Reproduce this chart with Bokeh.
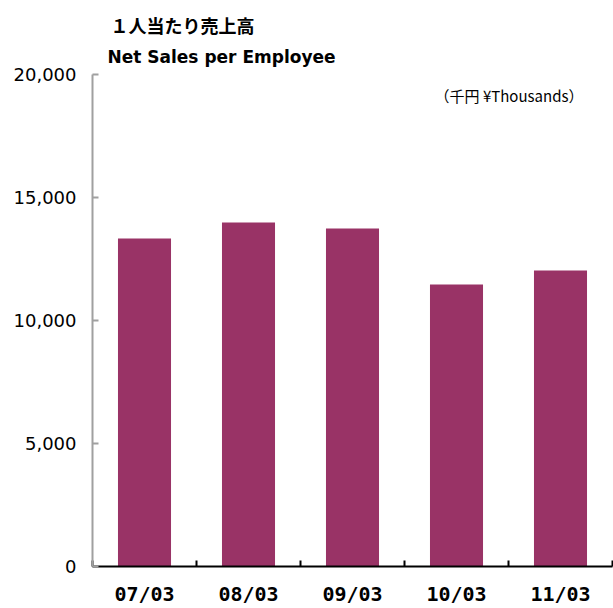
from bokeh.plotting import figure
from bokeh.models import ColumnDataSource, FixedTicker, NumeralTickFormatter, Range1d, Label
from bokeh.embed import file_html
from bokeh.resources import INLINE

categories = ["07/03", "08/03", "09/03", "10/03", "11/03"]
values = [13330, 13980, 13740, 11460, 12030]
y_ticks = [0, 5000, 10000, 15000, 20000]
y_max = 20000

title_ja = "１人当たり売上高"
title_en = "Net Sales per Employee"
unit_label = "（千円 ¥Thousands）"

n = len(categories)
centers = [i + 0.5 for i in range(n)]
bounds = list(range(n + 1))

# geometry (pixels): frame spans whole top; axis top sits 74px below the canvas top
W, H = 613, 608
border_left, border_bottom, axis_top_px = 92, 41, 74
frame_h = H - border_bottom
range_top = y_max * frame_h / (frame_h - axis_top_px)

source = ColumnDataSource(dict(x=centers, top=values))

p = figure(width=W, height=H, output_backend="svg", toolbar_location=None,
           x_range=Range1d(0, n), y_range=Range1d(0, range_top),
           min_border_left=border_left, min_border_right=1, min_border_top=0,
           min_border_bottom=border_bottom)
p.outline_line_color = None
p.xgrid.visible = False
p.ygrid.visible = False
p.background_fill_color = "white"

p.vbar(x="x", top="top", width=0.51, bottom=0, source=source,
       fill_color="#993366", line_color=None)

# y axis
ya = p.yaxis[0]
ya.bounds = (0, y_max)
ya.ticker = FixedTicker(ticks=y_ticks)
ya.formatter = NumeralTickFormatter(format="0,0")
ya.axis_line_color = "#a0a0a0"
ya.axis_line_width = 2
ya.major_tick_line_color = "#a0a0a0"
ya.major_tick_line_width = 2
ya.major_tick_in = 6
ya.major_tick_out = 0
ya.minor_tick_line_color = None
ya.major_label_standoff = 16
ya.major_label_text_font = "DejaVu Sans"
ya.major_label_text_font_size = "18px"
ya.major_label_text_color = "#000000"

# x axis
xa = p.xaxis[0]
xa.ticker = FixedTicker(ticks=centers, minor_ticks=bounds)
xa.major_label_overrides = {c: lab for c, lab in zip(centers, categories)}
xa.axis_line_color = "black"
xa.axis_line_width = 2
xa.major_tick_line_color = None
xa.major_tick_in = 0
xa.major_tick_out = 0
xa.minor_tick_line_color = "black"
xa.minor_tick_line_width = 2
xa.minor_tick_in = 6
xa.minor_tick_out = 0
xa.major_label_standoff = 15
xa.major_label_text_font = "DejaVu Sans Mono"
xa.major_label_text_font_style = "bold"
xa.major_label_text_font_size = "20px"
xa.major_label_text_color = "#000000"

# screen positions are relative to the plot frame (bottom-left)
p.add_layout(Label(x=18, y=frame_h - 25, x_units="screen", y_units="screen", text=title_ja,
                   text_font="Noto Sans CJK JP", text_font_style="bold",
                   text_font_size="18px", text_baseline="middle", text_color="#000000"))
p.add_layout(Label(x=15, y=frame_h - 57, x_units="screen", y_units="screen", text=title_en,
                   text_font="DejaVu Sans", text_font_style="bold",
                   text_font_size="17px", text_baseline="middle", text_color="#000000"))
p.add_layout(Label(x=491, y=frame_h - 96, x_units="screen", y_units="screen", text=unit_label,
                   text_font="Noto Sans CJK JP",
                   text_font_size="15px", text_baseline="middle", text_align="right",
                   text_color="#000000"))

open("out.html", "w").write(file_html(p, INLINE))
